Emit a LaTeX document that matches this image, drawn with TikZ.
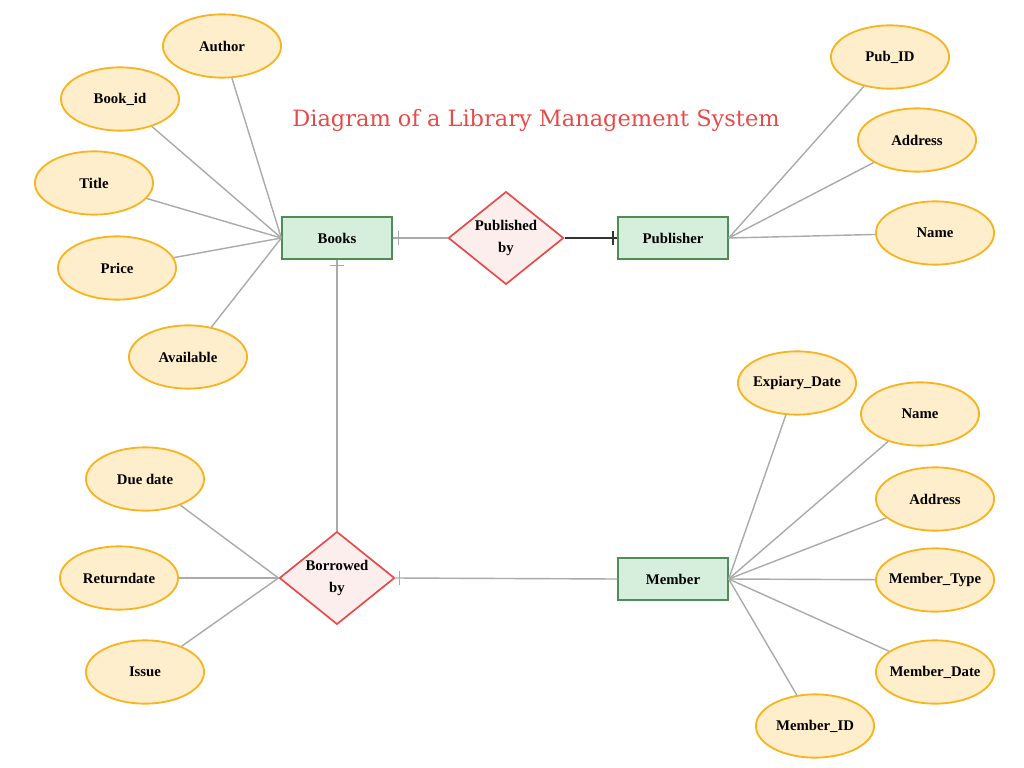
\documentclass[tikz,border=0pt]{standalone}
\usepackage{fontspec}
\setmainfont{Liberation Serif}
\newfontfamily\titlefont{DejaVu Serif}
\usetikzlibrary{shapes.geometric}

\definecolor{attrfill}{HTML}{FFEECB}
\definecolor{attrline}{HTML}{F8B420}
\definecolor{entfill}{HTML}{D6EEDC}
\definecolor{entline}{HTML}{4E8D55}
\definecolor{relfill}{HTML}{FDEEEE}
\definecolor{relline}{HTML}{E84A4A}
\definecolor{link}{HTML}{AAAAAA}

% fixed-size ellipse text
\newcommand{\attrtxt}[1]{\makebox[40pt]{#1}}

\tikzset{
    attr/.style={ellipse, draw=attrline, fill=attrfill, line width=1.3pt, inner sep=0pt,
        minimum width=84pt, minimum height=45pt, font=\fontsize{10.5}{13}\selectfont\bfseries},
    entity/.style={rectangle, draw=entline, fill=entfill, line width=1.2pt,
        minimum width=78pt, minimum height=30pt, font=\fontsize{10.5}{13}\selectfont\bfseries},
    rel/.style={diamond, draw=relline, fill=relfill, line width=1.2pt, aspect=1.25,
        minimum width=82pt, minimum height=66pt, inner sep=0pt, align=center,
        font=\fontsize{10.5}{15}\selectfont\bfseries},
    link/.style={draw=link, line width=1pt}
}

\begin{document}
\begin{tikzpicture}[x=0.025cm, y=-0.025cm]
    \useasboundingbox (0,0) rectangle (1024,768);

    % title
    \node[text=relline, font=\titlefont\fontsize{16}{18}\selectfont] (title) at (536,120) {Diagram of a Library Management System};

    % entities and relations
    \node[entity] (books) at (337,238) {Books};
    \node[entity] (publisher) at (673,238) {Publisher};
    \node[entity] (member) at (673,579) {Member};
    \node[rel] (published) at (506,238) {Published\\by};
    \node[rel] (borrowed) at (337,578) {Borrowed\\by};

    % attributes of Books
    \node[attr] (author) at (222,46) {\attrtxt{Author}};
    \node[attr] (bookid) at (120,99) {\attrtxt{Book\_id}};
    \node[attr] (title) at (94,183) {\attrtxt{Title}};
    \node[attr] (price) at (117,268) {\attrtxt{Price}};
    \node[attr] (available) at (188,357) {\attrtxt{Available}};

    % attributes of Publisher
    \node[attr] (pubid) at (890,57) {\attrtxt{Pub\_ID}};
    \node[attr] (pubaddr) at (917,140) {\attrtxt{Address}};
    \node[attr] (pubname) at (935,233) {\attrtxt{Name}};

    % attributes of Borrowed by
    \node[attr] (duedate) at (145,479) {\attrtxt{Due date}};
    \node[attr] (returndate) at (119,578) {\attrtxt{Returndate}};
    \node[attr] (issue) at (145,672) {\attrtxt{Issue}};

    % attributes of Member
    \node[attr] (expdate) at (797,383) {\attrtxt{Expiary\_Date}};
    \node[attr] (memname) at (920,414) {\attrtxt{Name}};
    \node[attr] (memaddr) at (935,499) {\attrtxt{Address}};
    \node[attr] (memtype) at (935,580) {\attrtxt{Member\_Type}};
    \node[attr] (memdate) at (935,672) {\attrtxt{Member\_Date}};
    \node[attr] (memid) at (815,726) {\attrtxt{Member\_ID}};

    % attribute links
    \foreach \a in {author,bookid,title,price,available}
        \draw[link] (books.west) -- (\a);
    \foreach \a in {pubid,pubaddr,pubname}
        \draw[link] (publisher.east) -- (\a);
    \foreach \a in {duedate,returndate,issue}
        \draw[link] (borrowed.west) -- (\a);
    \foreach \a in {expdate,memname,memaddr,memtype,memdate,memid}
        \draw[link] (member.east) -- (\a);

    % relation links
    \draw[link] (books.east) -- (published.west);
    \draw[line width=1pt, black!80] (published.east) -- (publisher.west);
    \draw[link] (books.south) -- (borrowed.north);
    \draw[link] (borrowed.east) -- (member.west);

    % ticks
    \draw[link] ([xshift=4pt,yshift=-5pt]books.east) -- ++(0,10pt);
    \draw[line width=1pt, black!80] ([xshift=-3pt,yshift=-5pt]publisher.west) -- ++(0,10pt);
    \draw[link] ([xshift=-5pt,yshift=-4pt]books.south) -- ++(10pt,0);
    \draw[link] ([xshift=3pt,yshift=-5pt]borrowed.east) -- ++(0,10pt);

\end{tikzpicture}
\end{document}
